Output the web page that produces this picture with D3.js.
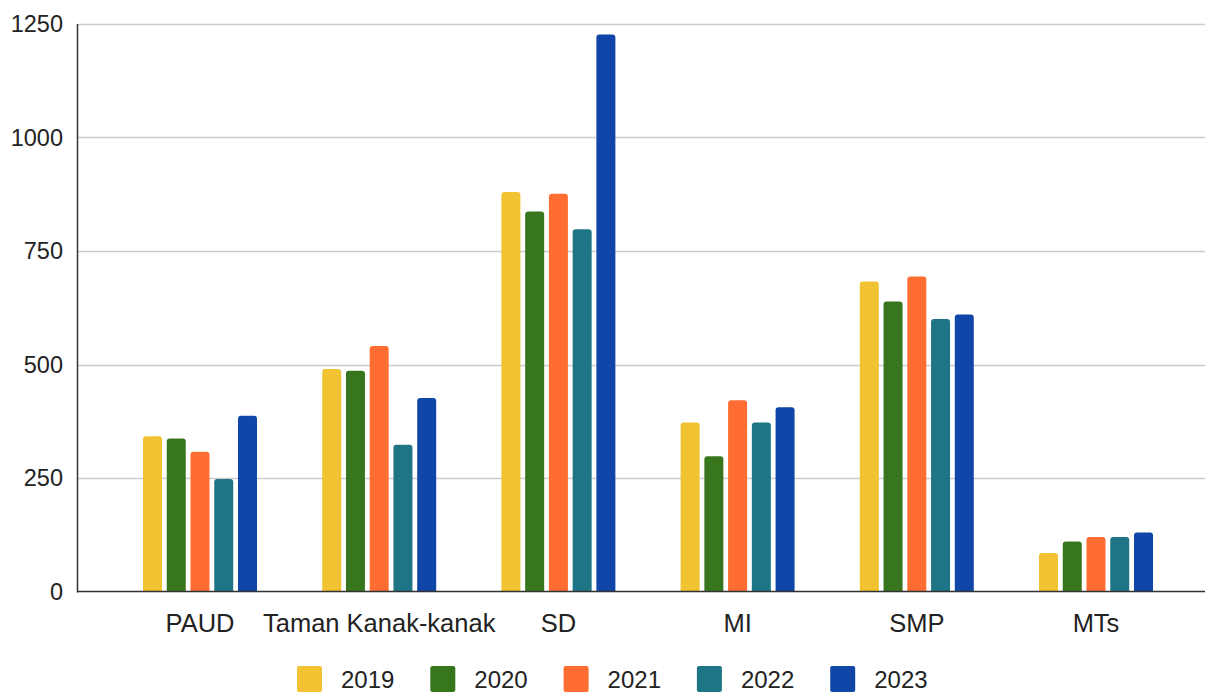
<!DOCTYPE html>
<html>
<head>
<meta charset="utf-8">
<script src="https://cdn.jsdelivr.net/npm/d3@7"></script>
<style>
  body { margin: 0; background: #fff; overflow: hidden; }
  text { font-family: 'Liberation Sans', Arial, sans-serif; }
</style>
</head>
<body>
<script>
const categories = ['PAUD', 'Taman Kanak-kanak', 'SD', 'MI', 'SMP', 'MTs']
const years = ['2019', '2020', '2021', '2022', '2023']
const values2019 = [342, 490, 880, 372, 683, 85]
const values2020 = [337, 486, 837, 298, 639, 110]
const values2021 = [308, 541, 876, 421, 694, 120]
const values2022 = [248, 323, 798, 372, 600, 120]
const values2023 = [387, 426, 1227, 406, 610, 130]
const yTicks = [0, 250, 500, 750, 1000, 1250]
const colors = ['#f1c232', '#38761d', '#ff6d33', '#1e7585', '#0f46a8']

const series = [values2019, values2020, values2021, values2022, values2023]
const data = categories.map((c, i) => ({
    category: c,
    values: years.map((y, j) => ({ year: y, value: series[j][i] }))
}))

const width = 1205
const height = 693
const axisLeft = 77.5
const axisRight = 1205

const svg = d3.select('body').append('svg')
    .attr('width', width)
    .attr('height', height)

const y = d3.scaleLinear().domain([0, 1250]).range([591.5, 24])

const x0 = d3.scaleBand()
    .domain(categories)
    .range([110.4, 1185.6])
    .paddingInner(0.364)
    .paddingOuter(0.182)

const x1 = d3.scaleBand()
    .domain(years)
    .range([0, x0.bandwidth()])
    .paddingInner(0.2)

// gridlines
svg.append('g')
    .selectAll('line')
    .data(yTicks.filter(d => d > 0))
    .enter().append('line')
    .attr('x1', axisLeft)
    .attr('x2', axisRight)
    .attr('y1', d => Math.round(y(d)) + 0.5)
    .attr('y2', d => Math.round(y(d)) + 0.5)
    .style('stroke', '#cccccc')
    .style('stroke-width', 1.5)

// y tick labels
svg.append('g')
    .selectAll('text')
    .data(yTicks)
    .enter().append('text')
    .attr('x', 63)
    .attr('y', d => y(d))
    .attr('dy', '0.35em')
    .attr('text-anchor', 'end')
    .style('font-size', '23.5px')
    .style('fill', '#222')
    .text(d => d)

const barPath = (x, w, top, bottom) => {
    const r = Math.min(3, (bottom - top) / 2)
    return `M${x},${bottom}V${top + r}Q${x},${top} ${x + r},${top}H${x + w - r}Q${x + w},${top} ${x + w},${top + r}V${bottom}Z`
}

// bars
const groups = svg.append('g')
    .selectAll('g')
    .data(data)
    .enter().append('g')
    .attr('transform', d => `translate(${x0(d.category)},0)`)

groups.selectAll('path')
    .data(d => d.values)
    .enter().append('path')
    .attr('d', d => barPath(x1(d.year), x1.bandwidth(), y(d.value), y(0)))
    .attr('fill', (d, i) => colors[i])

// axes lines
svg.append('line')
    .attr('x1', axisLeft).attr('x2', axisLeft)
    .attr('y1', 24).attr('y2', y(0) + 1)
    .style('stroke', '#333')
    .style('stroke-width', 1.5)

svg.append('line')
    .attr('x1', axisLeft).attr('x2', axisRight)
    .attr('y1', y(0)).attr('y2', y(0))
    .style('stroke', '#333')
    .style('stroke-width', 1.5)

// category labels
svg.append('g')
    .selectAll('text')
    .data(categories)
    .enter().append('text')
    .attr('x', d => x0(d) + x0.bandwidth() / 2)
    .attr('y', 632)
    .attr('text-anchor', 'middle')
    .style('font-size', '25.5px')
    .style('fill', '#222')
    .text(d => d)

// legend
const legend = svg.append('g')
    .selectAll('g')
    .data(years)
    .enter().append('g')
    .attr('transform', (d, i) => `translate(${297 + i * 133.3},666)`)

legend.append('rect')
    .attr('width', 25)
    .attr('height', 26)
    .attr('rx', 2)
    .attr('fill', (d, i) => colors[i])

legend.append('text')
    .attr('x', 44)
    .attr('y', 22)
    .style('font-size', '24px')
    .style('fill', '#222')
    .text(d => d)
</script>
</body>
</html>
